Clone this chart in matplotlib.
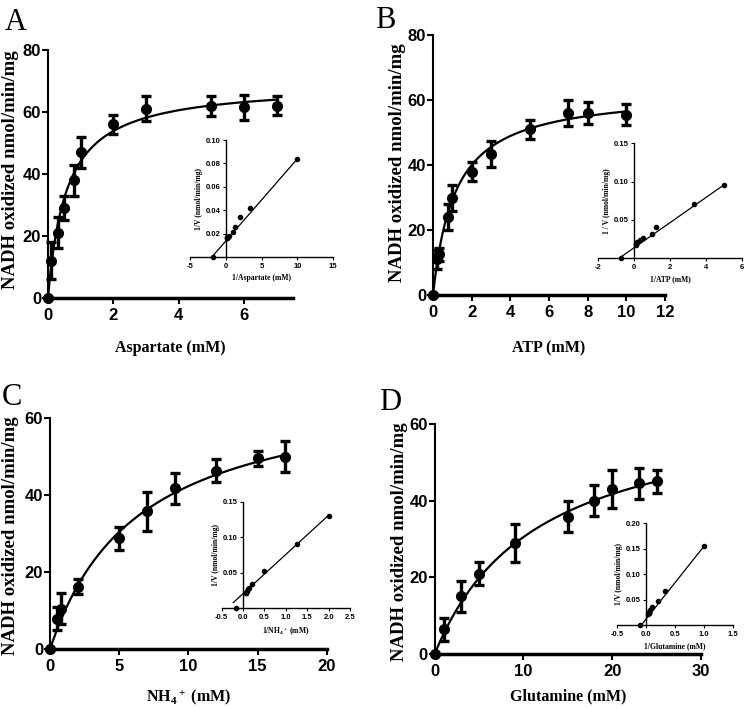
# coding=utf8
"""
Michaelis-Menten kinetics of the four substrates, with Lineweaver-Burk insets
"""
import matplotlib
matplotlib.use("Agg")
import matplotlib.pyplot as plt
import numpy as np

# ---- panel A: aspartate
asp_conc = [0, 0.1, 0.3, 0.5, 0.8, 1, 2, 3, 5, 6, 7]
asp_rate = [0, 12, 21, 29, 38, 47, 56, 61, 62, 61.5, 62]
asp_err = [0, 6, 5, 4, 5, 5, 3, 4, 3.3, 4, 3]
asp_vmax, asp_km = 69.2, 0.57
asp_inv_s = [-1.8, 0.14, 0.17, 0.2, 0.33, 0.5, 1, 1.25, 2, 3.33, 10]
asp_inv_v = [0, 0.016, 0.0165, 0.017, 0.017, 0.018, 0.021, 0.026, 0.034, 0.042, 0.084]
asp_fit_x = [-1.8, 10]
asp_fit_y = [0.001, 0.084]

# ---- panel B: ATP
atp_conc = [0, 0.2, 0.3, 0.8, 1, 2, 3, 5, 7, 8, 10]
atp_rate = [0, 11, 12.5, 24, 30, 38, 43.5, 51, 56, 56, 55.5]
atp_err = [0, 3, 2, 4, 4, 3, 4, 3, 4, 3.5, 3.2]
atp_vmax, atp_km = 63.0, 1.15
atp_inv_s = [-0.7, 0.1, 0.125, 0.14, 0.2, 0.33, 0.5, 1, 1.25, 3.33, 5]
atp_inv_v = [0, 0.017, 0.018, 0.019, 0.021, 0.024, 0.026, 0.032, 0.041, 0.071, 0.096]
atp_fit_x = [-0.7, 5]
atp_fit_y = [0.002, 0.096]

# ---- panel C: NH4+
nh4_conc = [0, 0.5, 0.8, 2, 5, 7, 9, 12, 15, 17]
nh4_rate = [0, 8, 10.5, 16.3, 28.8, 35.8, 41.8, 46.4, 49.6, 50]
nh4_err = [0, 3, 4, 2, 3, 5, 4, 3, 2, 4]
nh4_vmax, nh4_km = 69.5, 6.4
nh4_inv_s = [-0.17, 0.059, 0.067, 0.083, 0.11, 0.14, 0.2, 0.5, 1.25, 2]
nh4_inv_v = [0, 0.021, 0.022, 0.024, 0.027, 0.029, 0.034, 0.053, 0.091, 0.130]
nh4_fit_x = [-0.23, 2]
nh4_fit_y = [0.008, 0.131]

# ---- panel D: glutamine
gln_conc = [0, 1, 3, 5, 9, 15, 18, 20, 23, 25]
gln_rate = [0, 6.4, 15, 20.9, 29, 35.8, 40, 43, 44.5, 45]
gln_err = [0, 3, 4, 3, 5, 4, 4, 5, 4, 3]
gln_vmax, gln_km = 65.9, 11.6
gln_inv_s = [-0.1, 0.04, 0.043, 0.05, 0.056, 0.067, 0.11, 0.2, 0.33, 1]
gln_inv_v = [0, 0.022, 0.023, 0.024, 0.026, 0.03, 0.035, 0.048, 0.066, 0.155]
gln_fit_x = [-0.08, 1.0]
gln_fit_y = [0.0, 0.155]

tick_font = ['Liberation Sans Narrow', 'Liberation Sans', 'DejaVu Sans']
label_font = ['Liberation Serif', 'DejaVu Serif']

plt.rcParams['mathtext.fontset'] = 'custom'
plt.rcParams['mathtext.rm'] = 'Liberation Serif:bold'
plt.rcParams['mathtext.it'] = 'Liberation Serif:bold'

fig = plt.figure(figsize=(7.45, 7.09), dpi=100)


def main_panel(rect, conc, rate, err, vmax, km, xlim, xticks, ylim, yticks, xlabel, xlab_y, ylab_xy):
    ax = fig.add_axes(rect)
    s = np.linspace(0, max(conc), 300)
    ax.plot(s, vmax * s / (km + s), color='k', lw=1.6)
    ax.errorbar(conc, rate, yerr=err, fmt='o', color='k', ms=7, elinewidth=2.4,
                capsize=3.8, capthick=2.4, clip_on=False, zorder=3)
    ax.set_xlim(xlim)
    ax.set_ylim(ylim)
    ax.set_xticks(xticks)
    ax.set_yticks(yticks)
    for side in ['top', 'right']:
        ax.spines[side].set_visible(False)
    ax.spines['left'].set_linewidth(1.5)
    ax.spines['bottom'].set_linewidth(2.5)
    ax.tick_params(direction='out', length=4, width=1.5, labelsize=12)
    ax.tick_params(axis='y', pad=1)
    ax.tick_params(axis='x', pad=3)
    for lab in ax.get_xticklabels() + ax.get_yticklabels():
        lab.set_family(tick_font)
        lab.set_fontweight('bold')
    ax.set_xlabel(xlabel, family=label_font, fontweight='bold', fontsize=11.5)
    ax.xaxis.set_label_coords(0.5, xlab_y)
    ax.set_ylabel("NADH oxidized nmol/min/mg", family=label_font, fontweight='bold',
                  fontsize=13.5)
    ax.yaxis.set_label_coords(*ylab_xy)
    return ax


def inset_panel(rect, inv_s, inv_v, fit_x, fit_y, xlim, xticks, xfmt, ylim, yticks, xlabel, ylabel):
    ax = fig.add_axes(rect)
    ax.patch.set_alpha(0)
    ax.plot(fit_x, fit_y, color='k', lw=0.9)
    ax.plot(inv_s, inv_v, 'o', color='k', ms=3, clip_on=False)
    ax.set_xlim(xlim)
    ax.set_ylim(ylim)
    ax.set_xticks(xticks)
    ax.set_xticklabels([xfmt % t for t in xticks])
    ax.set_yticks(yticks)
    ax.set_yticklabels(["%.2f" % t for t in yticks])
    for side in ['top', 'right']:
        ax.spines[side].set_visible(False)
    ax.spines['left'].set_position(('data', 0))
    ax.spines['bottom'].set_position(('data', 0))
    ax.spines['left'].set_linewidth(1.0)
    ax.spines['bottom'].set_linewidth(1.0)
    ax.tick_params(direction='out', length=2.5, width=0.8, labelsize=5.5, pad=1.5)
    for lab in ax.get_xticklabels() + ax.get_yticklabels():
        lab.set_family(tick_font)
        lab.set_fontweight('bold')
    ax.set_xlabel(xlabel, family=label_font, fontweight='bold', fontsize=5.5, labelpad=3)
    ax.set_ylabel(ylabel, family=label_font, fontweight='bold', fontsize=5.5, labelpad=2)
    return ax


main_panel([0.0644, 0.5797, 0.3289, 0.3498], asp_conc, asp_rate, asp_err, asp_vmax, asp_km,
           (0, 7.5), [0, 2, 4, 6], (0, 80), [0, 20, 40, 60, 80], "Aspartate (mM)",
           -0.169, (-0.118, 0.516))
main_panel([0.5812, 0.5839, 0.3114, 0.3667], atp_conc, atp_rate, atp_err, atp_vmax, atp_km,
           (0, 12), [0, 2, 4, 6, 8, 10, 12], (0, 80), [0, 20, 40, 60, 80], "ATP (mM)",
           -0.173, (-0.117, 0.508))
main_panel([0.0671, 0.0842, 0.3714, 0.3258], nh4_conc, nh4_rate, nh4_err, nh4_vmax, nh4_km,
           (0, 20), [0, 5, 10, 15, 20], (0, 60), [0, 20, 40, 60], "NH$_4$$^+$ (mM)",
           -0.165, (-0.112, 0.49))
main_panel([0.5835, 0.0776, 0.3574, 0.3244], gln_conc, gln_rate, gln_err, gln_vmax, gln_km,
           (0, 30), [0, 10, 20, 30], (0, 60), [0, 20, 40, 60], "Glutamine (mM)",
           -0.148, (-0.100, 0.49))

inset_panel([0.2550, 0.6375, 0.1923, 0.1650], asp_inv_s, asp_inv_v, asp_fit_x, asp_fit_y,
            (-5, 15), [-5, 0, 5, 10, 15], "%d", (0, 0.10), [0.02, 0.04, 0.06, 0.08, 0.10],
            "1/Aspartate (mM)", "1/V (nmol/min/mg)")
inset_panel([0.8023, 0.6357, 0.1941, 0.1622], atp_inv_s, atp_inv_v, atp_fit_x, atp_fit_y,
            (-2, 6), [-2, 0, 2, 4, 6], "%d", (0, 0.15), [0.05, 0.10, 0.15],
            "1/ATP (mM)", "1 / V (nmol/min/mg)")
inset_panel([0.2976, 0.1420, 0.1722, 0.1504], nh4_inv_s, nh4_inv_v, nh4_fit_x, nh4_fit_y,
            (-0.5, 2.5), [-0.5, 0, 0.5, 1.0, 1.5, 2.0, 2.5], "%.1f", (0, 0.15), [0.05, 0.10, 0.15],
            "1/NH$_4$$^+$ (mM)", "1/V (nmol/min/mg)")
inset_panel([0.8282, 0.1185, 0.1557, 0.1434], gln_inv_s, gln_inv_v, gln_fit_x, gln_fit_y,
            (-0.5, 1.5), [-0.5, 0, 0.5, 1.0, 1.5], "%.1f", (0, 0.20), [0.05, 0.10, 0.15, 0.20],
            "1/Glutamine (mM)", "1/V (nmol/min/mg)")

# panel letters
for letter, (px, py) in zip("ABCD", [(5, 30), (375, 28), (2, 405), (379, 410)]):
    fig.text(px / 745, 1 - py / 709, letter, family=label_font, fontsize=22,
             ha='left', va='baseline')

fig.savefig("out.png", dpi=100)
